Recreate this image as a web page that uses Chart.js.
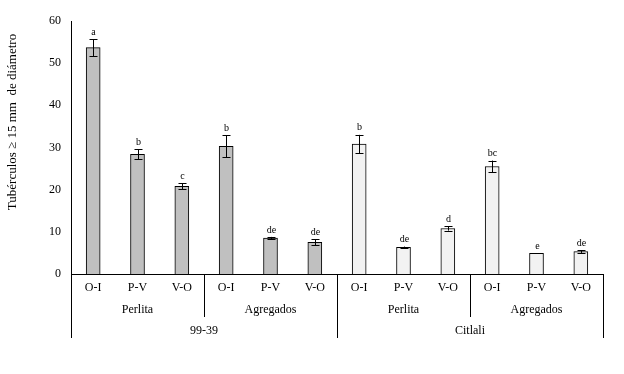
<!DOCTYPE html>
<html><head><meta charset="utf-8">
<script src="https://cdn.jsdelivr.net/npm/chart.js@4"></script>
<style>html,body{margin:0;padding:0;background:#fff}</style>
</head><body>
<canvas id="c" width="624" height="374" style="width:624px;height:374px;display:block"></canvas>
<script>
// ---- data ----
const categories = ['O-I','P-V','V-O','O-I','P-V','V-O','O-I','P-V','V-O','O-I','P-V','V-O'];
const substrates = ['Perlita','Agregados','Perlita','Agregados'];
const varieties = ['99-39','Citlali'];
const values = [53.7, 28.4, 20.8, 30.3, 8.5, 7.5, 30.8, 6.3, 10.8, 25.5, 4.9, 5.3];
const errors = [2.0, 1.2, 0.7, 2.6, 0.3, 0.7, 2.2, 0.2, 0.5, 1.4, 0.0, 0.3];
const letters = ['a','b','c','b','de','de','b','de','d','bc','e','de'];
const yTitle = 'Tubérculos \u2265 15 mm  de diámetro';

const FONT = '"Liberation Serif", "Times New Roman", serif';

const extras = {
  id: 'extras',
  afterDatasetsDraw(chart) {
    const ctx = chart.ctx, xs = chart.scales.x, ys = chart.scales.y;
    const area = chart.chartArea;
    ctx.save();
    // error bars + letters
    ctx.strokeStyle = '#000';
    ctx.lineWidth = 1;
    ctx.fillStyle = '#000';
    ctx.font = '10px ' + FONT;
    ctx.textAlign = 'center';
    ctx.textBaseline = 'bottom';
    values.forEach((v, i) => {
      const x = Math.round(xs.getPixelForValue(i)) + 0.5;
      const e = errors[i];
      const yt = ys.getPixelForValue(v + e);
      const yb = ys.getPixelForValue(v - e);
      if (e > 0) {
        ctx.beginPath();
        ctx.moveTo(x, yt); ctx.lineTo(x, yb);
        ctx.moveTo(x - 4, Math.round(yt) + 0.5); ctx.lineTo(x + 4, Math.round(yt) + 0.5);
        ctx.moveTo(x - 4, Math.round(yb) + 0.5); ctx.lineTo(x + 4, Math.round(yb) + 0.5);
        ctx.stroke();
      }
      ctx.fillText(letters[i], x, yt - 2);
    });
    // group separators
    const cw = (area.right - area.left) / categories.length;
    const yb = area.bottom;
    ctx.beginPath();
    for (let k = 0; k <= categories.length; k += 3) {
      const x = Math.round(area.left + k * cw) + 0.5;
      const long = (k % 6 === 0);
      ctx.moveTo(x, yb);
      ctx.lineTo(x, long ? yb + 64 : yb + 43);
    }
    ctx.stroke();
    // group labels
    ctx.font = '12px ' + FONT;
    ctx.textBaseline = 'middle';
    substrates.forEach((s, j) => {
      const x = area.left + (j * 3 + 1.5) * cw;
      ctx.fillText(s, x, yb + 36);
    });
    varieties.forEach((s, j) => {
      const x = area.left + (j * 6 + 3) * cw;
      ctx.fillText(s, x, yb + 57);
    });
    // y title
    ctx.translate(13, 122);
    ctx.rotate(-Math.PI / 2);
    ctx.font = '13px ' + FONT;
    ctx.fillText(yTitle, 0, 0);
    ctx.restore();
  }
};

new Chart(document.getElementById('c'), {
  type: 'bar',
  data: {
    labels: categories,
    datasets: [{
      data: values,
      backgroundColor: ctx => ctx.dataIndex < 6 ? '#c0c0c0' : '#f2f2f2',
      borderColor: '#000',
      borderWidth: 1,
      barThickness: 14
    }]
  },
  options: {
    responsive: false,
    animation: false,
    devicePixelRatio: 1,
    layout: { padding: { top: 21, right: 21, left: 0, bottom: 0 } },
    plugins: { legend: { display: false }, tooltip: { enabled: false } },
    scales: {
      x: {
        grid: { display: false, drawTicks: false },
        border: { color: '#000', width: 1 },
        ticks: { color: '#000', font: { family: FONT, size: 12 }, padding: 7, maxRotation: 0, autoSkip: false },
        afterFit: s => { s.height = 100; }
      },
      y: {
        min: 0, max: 60,
        grid: { display: false, drawTicks: false },
        border: { color: '#000', width: 1 },
        ticks: { stepSize: 10, color: '#000', font: { family: FONT, size: 12 }, padding: 10 },
        afterFit: s => { s.width = 71; }
      }
    }
  },
  plugins: [extras]
});
</script>
</body></html>
